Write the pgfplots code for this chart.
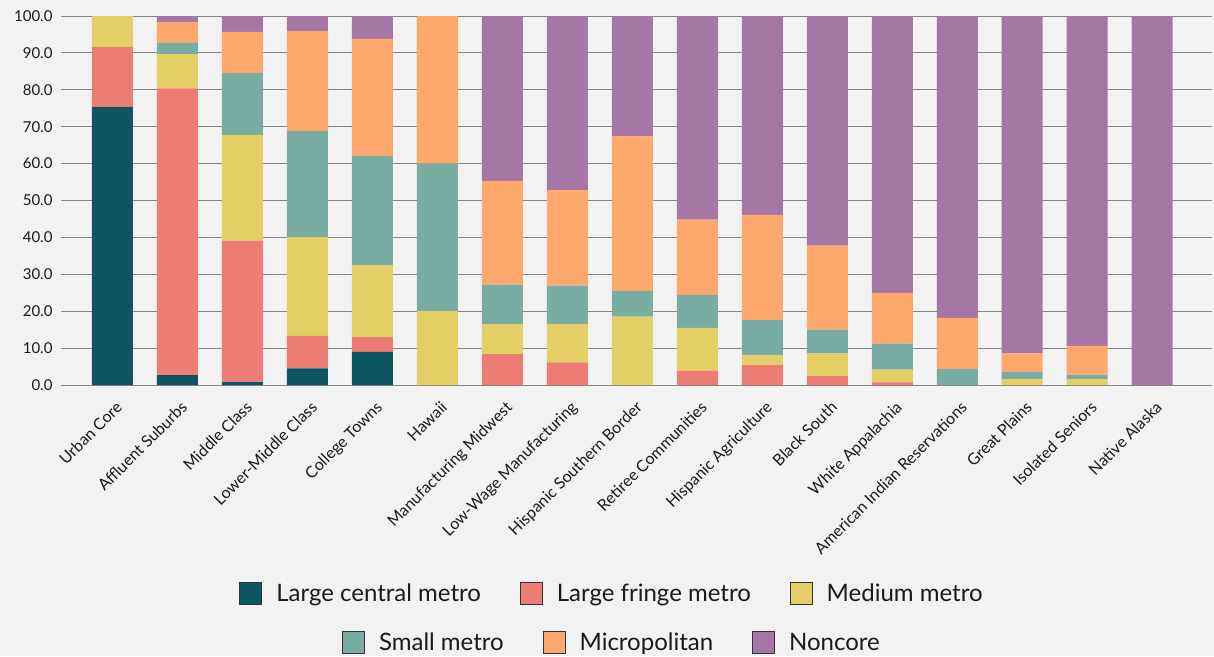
\documentclass[border=0pt]{standalone}
\usepackage{fontspec}
\setmainfont{Lato}
\usepackage{pgfplots}
\pgfplotsset{compat=1.18}
\definecolor{bg}{HTML}{F2F2F2}
\definecolor{gridgray}{HTML}{858585}
\definecolor{txt}{HTML}{1A1A1A}
\definecolor{cLC}{HTML}{0E5563}
\definecolor{cLF}{HTML}{EC7C74}
\definecolor{cMed}{HTML}{E3CF65}
\definecolor{cSm}{HTML}{79ADA3}
\definecolor{cMic}{HTML}{FFA86D}
\definecolor{cNon}{HTML}{A677A4}
\definecolor{legdraw}{HTML}{333333}
\pgfplotsset{
  mybox legend/.style={
    legend image code/.code={%
      \draw[##1,draw=legdraw,line width=0.9pt] (0pt,-11pt) rectangle (22pt,11pt);
    }},
  mylegend/.style={
    legend style={draw=none, fill=none, anchor=center, legend columns=3,
      font=\fontsize{24}{28}\selectfont, text=txt,
      /tikz/every odd column/.append style={column sep=12pt},
      /tikz/every even column/.append style={column sep=37pt}},
  },
}
\begin{document}
\begin{tikzpicture}
\fill[bg] (-61pt,-271pt) rectangle (1153pt,385pt);
\begin{axis}[
  at={(0pt,0pt)}, anchor=south west,
  scale only axis, width=1151pt, height=369pt,
  xmin=-0.79, xmax=16.92, ymin=0, ymax=100,
  ybar stacked, bar width=41pt,
  axis line style={draw=none},
  major tick length=0pt,
  ymajorgrids, grid style={color=gridgray, line width=1pt},
  ytick={0,10,...,100},
  tick label style={text=txt},
  yticklabel style={font=\fontsize{15}{18}\selectfont, xshift=-5pt, /pgf/number format/.cd, fixed, fixed zerofill, precision=1, assume math mode=true},
  xtick={0,...,16},
  xticklabels={Urban Core, Affluent Suburbs, Middle Class, Lower-Middle Class, College Towns, Hawaii, Manufacturing Midwest, Low-Wage Manufacturing, Hispanic Southern Border, Retiree Communities, Hispanic Agriculture, Black South, White Appalachia, American Indian Reservations, Great Plains, Isolated Seniors, Native Alaska},
  xticklabel style={xshift=2.5pt, yshift=-12pt, rotate=45, anchor=north east, inner sep=2pt, font=\fontsize{16}{19}\selectfont},
  mylegend,
  legend style={at={(0.4787,-0.566)}},
]
\addplot[forget plot, fill=cLC, draw=none] coordinates {(0,75.4) (1,2.7) (2,0.8) (3,4.5) (4,9.0) (5,0) (6,0) (7,0) (8,0) (9,0) (10,0) (11,0) (12,0) (13,0) (14,0) (15,0) (16,0)};
\addplot[forget plot, fill=cLF, draw=none] coordinates {(0,16.2) (1,77.7) (2,38.3) (3,8.8) (4,4.0) (5,0) (6,8.4) (7,6.1) (8,0) (9,3.9) (10,5.4) (11,2.4) (12,0.7) (13,0) (14,0) (15,0) (16,0)};
\addplot[forget plot, fill=cMed, draw=none] coordinates {(0,8.4) (1,9.3) (2,28.7) (3,26.8) (4,19.5) (5,20.0) (6,8.1) (7,10.4) (8,18.5) (9,11.6) (10,2.7) (11,6.2) (12,3.5) (13,0) (14,1.6) (15,1.6) (16,0)};
\addplot[forget plot, fill=cSm, draw=none] coordinates {(0,0) (1,3.0) (2,16.8) (3,28.8) (4,29.6) (5,40.0) (6,10.7) (7,10.4) (8,7.0) (9,8.9) (10,9.5) (11,6.4) (12,7.0) (13,4.4) (14,1.9) (15,1.2) (16,0)};
\addplot[forget plot, fill=cMic, draw=none] coordinates {(0,0) (1,5.7) (2,11.1) (3,27.0) (4,31.7) (5,40.0) (6,28.1) (7,25.9) (8,41.9) (9,20.4) (10,28.5) (11,22.8) (12,13.8) (13,13.8) (14,5.1) (15,7.8) (16,0)};
\addplot[forget plot, fill=cNon, draw=none] coordinates {(0,0) (1,1.6) (2,4.3) (3,4.1) (4,6.2) (5,0) (6,44.7) (7,47.2) (8,32.6) (9,55.2) (10,53.9) (11,62.2) (12,75.0) (13,81.8) (14,91.4) (15,89.4) (16,100)};
\addlegendimage{mybox legend, fill=cLC}
\addlegendentry{Large central metro}
\addlegendimage{mybox legend, fill=cLF}
\addlegendentry{Large fringe metro}
\addlegendimage{mybox legend, fill=cMed}
\addlegendentry{Medium metro}
\end{axis}
\begin{axis}[
  at={(0pt,0pt)}, anchor=south west,
  scale only axis, width=1151pt, height=369pt,
  xmin=-0.79, xmax=16.92, ymin=0, ymax=100,
  hide axis,
  mylegend,
  legend style={at={(0.4787,-0.698)}},
]
\addlegendimage{mybox legend, fill=cSm}
\addlegendentry{Small metro}
\addlegendimage{mybox legend, fill=cMic}
\addlegendentry{Micropolitan}
\addlegendimage{mybox legend, fill=cNon}
\addlegendentry{Noncore}
\end{axis}
\pgfresetboundingbox
\path (-61pt,-271pt) rectangle (1153pt,385pt);
\end{tikzpicture}
\end{document}
